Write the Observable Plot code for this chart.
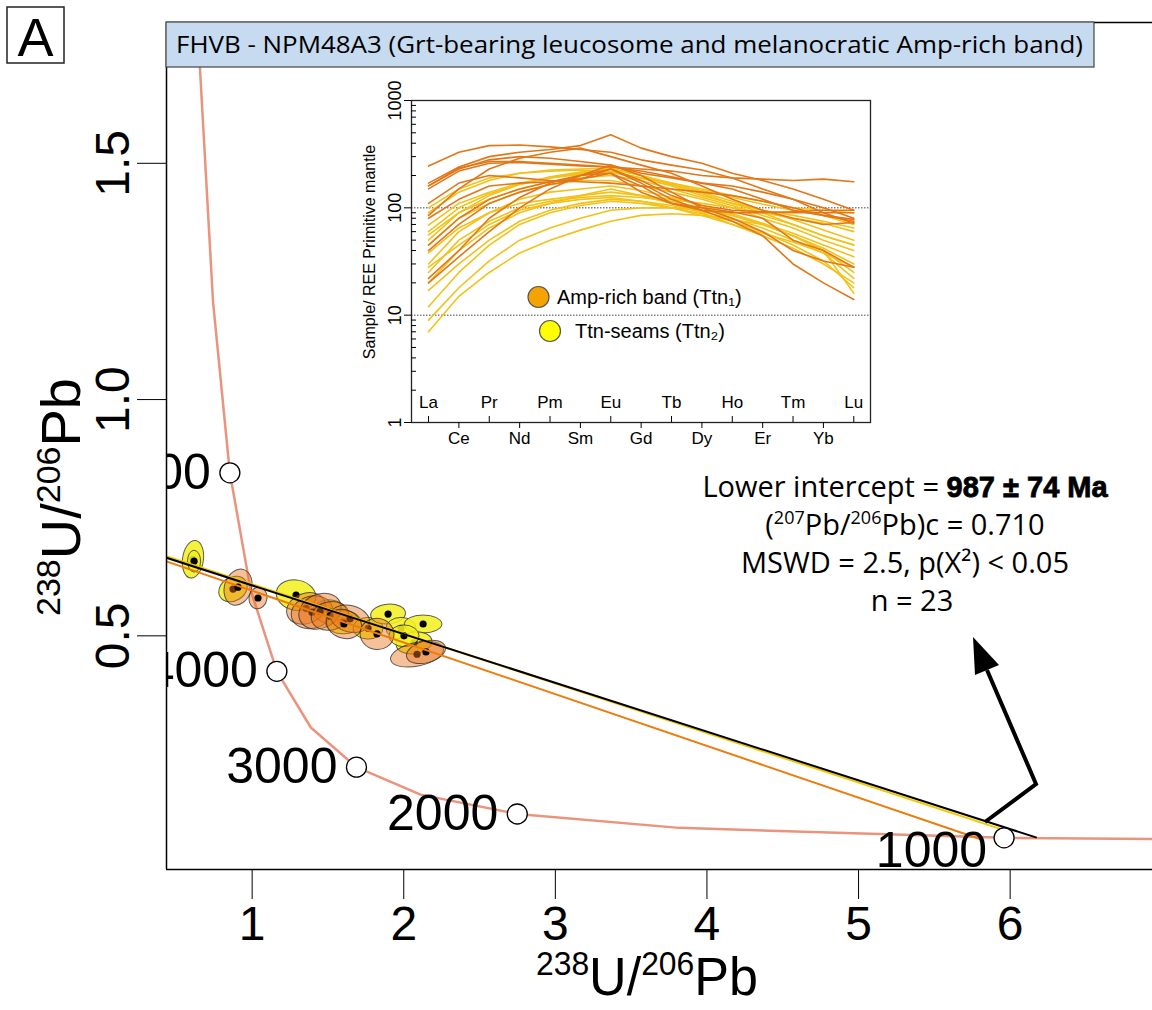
<!DOCTYPE html>
<html><head><meta charset="utf-8">
<script src="https://cdn.jsdelivr.net/npm/d3@7"></script>
<script src="https://cdn.jsdelivr.net/npm/@observablehq/plot@0.6"></script>
<style>
body{margin:0;background:#fff;}
#wrap{position:relative;width:1152px;height:1010px;overflow:hidden;background:#fff;}
#main{position:absolute;left:0;top:0;}
#inset{position:absolute;left:350px;top:70px;}
svg{display:block;}
</style></head><body><div id="wrap"><div id="main"></div><div id="inset"></div></div>
<script>
// ---------- Tera-Wasserburg concordia ----------
const concordiaAge = [6000, 5500, 5000, 4500, 4000, 3500, 3000, 2500, 2000, 1500, 1000, 500];
const concordiaX   = [0.65, 0.742, 0.853, 0.990, 1.163, 1.387, 1.688, 2.111, 2.749, 3.817, 5.960, 12.40];
const concordiaY   = [1.734, 1.207, 0.845, 0.597, 0.425, 0.306, 0.222, 0.164, 0.123, 0.0936, 0.0725, 0.0573];
const markedAges   = [5000, 4000, 3000, 2000, 1000];

// ---------- titanite analyses (error ellipses) ----------
const ellGroup = ["Ttn2","Ttn2","Ttn2","Ttn2","Ttn2","Ttn2","Ttn2","Ttn2","Ttn2","Ttn2","Ttn2","Ttn2",
                  "Ttn1","Ttn1","Ttn1","Ttn1","Ttn1","Ttn1","Ttn1","Ttn1","Ttn1","Ttn1","Ttn1"];
const ellX  = [0.613, 0.620, 0.877, 1.293, 1.517, 1.603, 1.768, 1.900, 1.985, 2.131, 2.071, 2.005,
               0.910, 1.042, 1.359, 1.398, 1.451, 1.517, 1.649, 1.609, 1.827, 2.091, 2.150];
const ellY  = [0.661, 0.657, 0.598, 0.585, 0.550, 0.528, 0.515, 0.545, 0.515, 0.524, 0.484, 0.499,
               0.602, 0.579, 0.557, 0.549, 0.551, 0.541, 0.535, 0.524, 0.503, 0.460, 0.465];
const ellSx = [0.069, 0.043, 0.099, 0.132, 0.112, 0.119, 0.099, 0.115, 0.099, 0.125, 0.119, 0.099,
               0.089, 0.059, 0.132, 0.139, 0.145, 0.125, 0.132, 0.119, 0.112, 0.178, 0.132];
const ellSy = [0.040, 0.023, 0.025, 0.032, 0.025, 0.025, 0.023, 0.021, 0.023, 0.019, 0.023, 0.023,
               0.039, 0.023, 0.032, 0.034, 0.036, 0.030, 0.028, 0.030, 0.033, 0.025, 0.023];
const ellTilt = [8, 0, -32, 12, 5, 0, 0, -5, 0, 0, -8, 0,
                 18, 10, -20, -15, -25, -10, 15, 20, 10, -12, -15];

// ---------- discordia regressions ----------
const fitName = ["Ttn1", "Ttn2", "All"];
const fitX0 = [0, 0, 0];
const fitY0 = [0.705, 0.714, 0.710];
const fitX1 = [5.80, 5.93, 6.17];
const fitY1 = [0.070, 0.092, 0.0735];

// ---------- inset: REE primitive-mantle normalised ----------
const REE = ["La","Ce","Pr","Nd","Pm","Sm","Eu","Gd","Tb","Dy","Ho","Er","Tm","Yb","Lu"];
const reeTtn1 = [
  [245,330,380,385,370,350,330,280,250,225,190,150,120,100,80],
  [170,240,300,330,350,380,480,360,300,260,210,180,150,120,95],
  [160,235,270,270,260,250,240,230,220,200,190,185,180,185,175],
  [150,220,260,265,255,245,240,220,195,170,150,120,95,85,75],
  [85,150,230,290,330,360,300,250,210,160,120,95,80,70,73],
  [80,120,160,170,175,185,230,180,130,105,95,92,90,90,90],
  [45,80,120,150,175,200,250,200,140,100,80,60,40,32,28],
  [40,70,110,140,165,185,210,160,110,95,90,90,92,95,95],
  [22,40,80,125,170,200,210,140,110,100,92,80,50,40,28],
  [20,35,60,100,150,200,230,170,120,95,75,55,30,20,14],
  [110,170,200,190,180,175,170,160,150,140,130,115,100,85,78],
  [160,230,280,300,290,270,250,210,190,170,160,140,120,90,72]
];
const reeTtn2 = [
  [7,15,25,38,50,62,75,85,88,85,78,70,55,40,25],
  [9,18,32,50,65,80,95,100,100,95,85,70,55,42,30],
  [17,30,50,75,95,110,120,115,105,92,80,65,50,38,28],
  [20,40,65,90,110,130,150,130,110,90,70,55,42,30,20],
  [25,50,75,100,115,125,130,125,115,100,85,70,55,40,16],
  [30,60,90,120,140,150,160,145,125,105,88,72,58,45,35],
  [38,65,90,110,120,130,140,130,120,110,100,90,80,72,60],
  [45,80,110,140,165,180,180,160,140,120,100,80,65,50,40],
  [56,90,120,150,175,190,200,180,150,125,105,85,70,55,45],
  [69,110,140,170,190,210,220,190,160,130,110,95,85,75,65],
  [90,140,180,210,225,230,235,200,165,135,110,90,70,55,45],
  [100,150,190,210,220,225,215,190,170,150,130,115,100,95,90],
  [60,100,135,165,190,205,215,190,165,145,125,108,95,85,70],
  [28,45,70,95,110,120,125,115,100,85,70,58,48,38,22],
  [12,25,45,70,90,105,115,110,100,88,75,60,45,32,18],
  [50,90,130,165,195,215,230,200,170,140,115,95,78,62,50]
];
const insetMajor = [1, 10, 100, 1000];
const insetMinor = [2,3,4,5,6,7,8,9,20,30,40,50,60,70,80,90,200,300,400,500,600,700,800,900];
const xTicks = [1, 2, 3, 4, 5, 6];
const yTicks = [0.5, 1.0, 1.5];

// ---------- tables ----------
const conc = concordiaAge.map((a, i) => ({age: a, x: concordiaX[i], y: concordiaY[i]}));
const agePts = conc.filter(d => markedAges.includes(d.age));
const ell = ellX.map((x, i) => ({group: ellGroup[i], x, y: ellY[i], sx: ellSx[i], sy: ellSy[i], tilt: ellTilt[i]}));
const fits = [];
fitName.forEach((n, i) => { fits.push({name: n, x: fitX0[i], y: fitY0[i]}, {name: n, x: fitX1[i], y: fitY1[i]}); });
const reeRows = [];
reeTtn2.forEach((row, k) => row.forEach((v, i) => reeRows.push({id: "b" + k, group: "Ttn2", i, v})));
reeTtn1.forEach((row, k) => row.forEach((v, i) => reeRows.push({id: "a" + k, group: "Ttn1", i, v})));

function ellipseRender(index, scales, values) {
  const g = d3.create("svg:g");
  for (const i of index) {
    const d = ell[i];
    const cx = values.x[i], cy = values.y[i];
    const rx = Math.abs(scales.x(d.x + d.sx) - scales.x(d.x));
    const ry = Math.abs(scales.y(d.y + d.sy) - scales.y(d.y));
    const o = d.group === "Ttn1";
    g.append("ellipse").attr("cx", cx).attr("cy", cy).attr("rx", rx).attr("ry", ry)
      .attr("transform", `rotate(${d.tilt},${cx},${cy})`)
      .attr("fill", o ? "#e8761e" : "#f2ef24").attr("fill-opacity", o ? 0.45 : 0.88)
      .attr("stroke", "#2a2a2a").attr("stroke-opacity", 0.75).attr("stroke-width", 1);
    g.append("circle").attr("cx", cx).attr("cy", cy).attr("r", 3.6).attr("fill", "#000");
  }
  return g.node();
}

const xDom = [0.435, 6.939], yDom = [0.0055, 1.798];
const FONT = "'Liberation Sans', Arial, sans-serif";

const main = Plot.plot({
  width: 1152, height: 1010,
  marginLeft: 166, marginRight: 0, marginTop: 22, marginBottom: 141,
  style: {fontFamily: FONT, background: "transparent", color: "#000"},
  x: {domain: xDom}, y: {domain: yDom},
  color: {domain: fitName, range: ["#ec7c0c", "#f2c800", "#000000"]},
  marks: [
    Plot.line(conc, {x: "x", y: "y", stroke: "#ea937d", strokeWidth: 2.5, clip: true}),
    Plot.dot(ell, {x: "x", y: "y", render: ellipseRender}),
    Plot.line(fits, {x: "x", y: "y", z: "name", stroke: "name", strokeWidth: 2, clip: true}),
    Plot.dot(agePts, {x: "x", y: "y", r: 10, fill: "white", stroke: "#000", strokeWidth: 1.3}),
    Plot.text(agePts.filter(d => d.age !== 1000), {x: "x", y: "y", text: d => String(d.age), textAnchor: "end", dx: -19, fontSize: 50, clip: true}),
    Plot.text(agePts.filter(d => d.age === 1000), {x: "x", y: "y", text: d => String(d.age), textAnchor: "end", dx: -17, dy: 13, fontSize: 50, clip: true}),
    Plot.ruleX([xDom[0]], {strokeWidth: 1.5}),
    Plot.ruleY(yDom, {strokeWidth: 1.5}),
    Plot.axisX(xTicks, {tickSize: 30, tickPadding: 6, fontSize: 48, label: null, tickFormat: d => String(d)}),
    Plot.axisY(yTicks, {tickSize: 29, tickPadding: 9, tickRotate: -90, fontSize: 48, label: null, tickFormat: d3.format(".1f")})
  ]
});
document.getElementById("main").appendChild(main);

const inset = Plot.plot({
  width: 540, height: 400,
  marginLeft: 61, marginRight: 20, marginTop: 30, marginBottom: 48,
  style: {fontFamily: FONT, background: "transparent", color: "#000"},
  x: {domain: [-0.56, 14.55]},
  y: {type: "log", domain: [1, 1000]},
  color: {domain: ["Ttn1", "Ttn2"], range: ["#e27718", "#f2c21a"]},
  marks: [
    Plot.ruleY([10, 100], {stroke: "#444", strokeDasharray: "1.5,1.5", strokeWidth: 1}),
    Plot.line(reeRows, {x: "i", y: "v", z: "id", stroke: "group", strokeWidth: 1.6}),
    Plot.frame({stroke: "#222", strokeWidth: 1.3}),
    Plot.axisY(insetMajor, {tickSize: 7, tickPadding: 4, tickRotate: -90, fontSize: 18, label: null, tickFormat: d => String(d)}),
    Plot.axisY(insetMinor, {tickSize: 5, dx: 5, label: null, tickFormat: () => ""}),
    Plot.axisX(REE.map((r, i) => i).filter(i => i % 2 === 1), {tickSize: 6, tickPadding: 3, fontSize: 17, label: null, tickFormat: i => REE[i]}),
    Plot.axisX(REE.map((r, i) => i).filter(i => i % 2 === 0), {tickSize: 6, dy: -6, label: null, tickFormat: () => ""}),
    Plot.text(REE.map((r, i) => i).filter(i => i % 2 === 0), {x: d => d, frameAnchor: "bottom", dy: -15, text: i => REE[i], fontSize: 17})
  ]
});
document.getElementById("inset").appendChild(inset);

// ---------- annotations ----------
const svg = d3.select(main);
const deco = svg.append("g").attr("text-anchor", "start");

// panel letter
deco.append("rect").attr("x", 7).attr("y", 7).attr("width", 57).attr("height", 56)
  .attr("fill", "white").attr("stroke", "#222").attr("stroke-width", 1.5);
deco.append("text").attr("x", 35.5).attr("y", 56).attr("text-anchor", "middle")
  .attr("font-family", FONT).attr("font-size", 54).text("A");

// title bar
deco.append("rect").attr("x", 166).attr("y", 22).attr("width", 928).attr("height", 45)
  .attr("fill", "#c6daf0").attr("stroke", "#444").attr("stroke-width", 1.2);
deco.append("text").attr("x", 176).attr("y", 53).attr("text-anchor", "start")
  .attr("font-family", "'Open Sans', sans-serif").attr("font-size", 24)
  .attr("textLength", 907).attr("lengthAdjust", "spacingAndGlyphs")
  .text("FHVB - NPM48A3 (Grt-bearing leucosome and melanocratic Amp-rich band)");

// result text
const AF = "'Open Sans', sans-serif";
const t1 = deco.append("text").attr("x", 905).attr("y", 497).attr("text-anchor", "middle")
  .attr("font-family", AF).attr("font-size", 29);
t1.append("tspan").text("Lower intercept = ");
t1.append("tspan").attr("font-family", "'Liberation Sans', Arial, sans-serif").attr("font-weight", 900)
  .attr("stroke", "#000").attr("stroke-width", 0.8).text("987 ± 74 Ma");
const t2 = deco.append("text").attr("x", 905).attr("y", 535).attr("text-anchor", "middle")
  .attr("font-family", AF).attr("font-size", 29);
t2.append("tspan").text("(");
t2.append("tspan").attr("font-size", 18).attr("dy", -11).text("207");
t2.append("tspan").attr("dy", 11).text("Pb/");
t2.append("tspan").attr("font-size", 18).attr("dy", -11).text("206");
t2.append("tspan").attr("dy", 11).text("Pb)c = 0.710");
deco.append("text").attr("x", 905).attr("y", 573).attr("text-anchor", "middle")
  .attr("font-family", AF).attr("font-size", 29).text("MSWD = 2.5, p(X²) < 0.05");
deco.append("text").attr("x", 912).attr("y", 611).attr("text-anchor", "middle")
  .attr("font-family", AF).attr("font-size", 29).text("n = 23");

// arrow
deco.append("path").attr("d", "M985,822 L1036,784 L987,670")
  .attr("fill", "none").attr("stroke", "#000").attr("stroke-width", 4).attr("stroke-linejoin", "miter");
deco.append("path").attr("d", "M973,637 L999,665 L975,675 Z").attr("fill", "#000");

// axis titles
const xt = deco.append("text").attr("x", 647).attr("y", 995)
  .attr("text-anchor", "middle").attr("font-family", FONT).attr("font-size", 54)
  .attr("textLength", 222).attr("lengthAdjust", "spacingAndGlyphs");
xt.append("tspan").attr("font-size", 33).attr("dy", -20).text("238");
xt.append("tspan").attr("dy", 20).text("U/");
xt.append("tspan").attr("font-size", 33).attr("dy", -20).text("206");
xt.append("tspan").attr("dy", 20).text("Pb");
const yt = deco.append("text").attr("transform", "translate(80,497) rotate(-90)")
  .attr("text-anchor", "middle").attr("font-family", FONT).attr("font-size", 56);
yt.append("tspan").attr("font-size", 34).attr("dy", -20).text("238");
yt.append("tspan").attr("dy", 20).text("U/");
yt.append("tspan").attr("font-size", 34).attr("dy", -20).text("206");
yt.append("tspan").attr("dy", 20).text("Pb");

// inset y title and legend
deco.append("text").attr("transform", "translate(375,252) rotate(-90)").attr("text-anchor", "middle")
  .attr("font-family", FONT).attr("font-size", 16).text("Sample/ REE Primitive mantle");
deco.append("circle").attr("cx", 538.5).attr("cy", 297).attr("r", 10.5)
  .attr("fill", "#f5a300").attr("stroke", "#555").attr("stroke-width", 1.2);
deco.append("text").attr("x", 557).attr("y", 304).attr("text-anchor", "start")
  .attr("font-family", FONT).attr("font-size", 20).text("Amp-rich band (Ttn₁)");
deco.append("circle").attr("cx", 550).attr("cy", 331).attr("r", 10.5)
  .attr("fill", "#ffff00").attr("stroke", "#555").attr("stroke-width", 1.2);
deco.append("text").attr("x", 575).attr("y", 338).attr("text-anchor", "start")
  .attr("font-family", FONT).attr("font-size", 20).text("Ttn-seams (Ttn₂)");
</script></body></html>
